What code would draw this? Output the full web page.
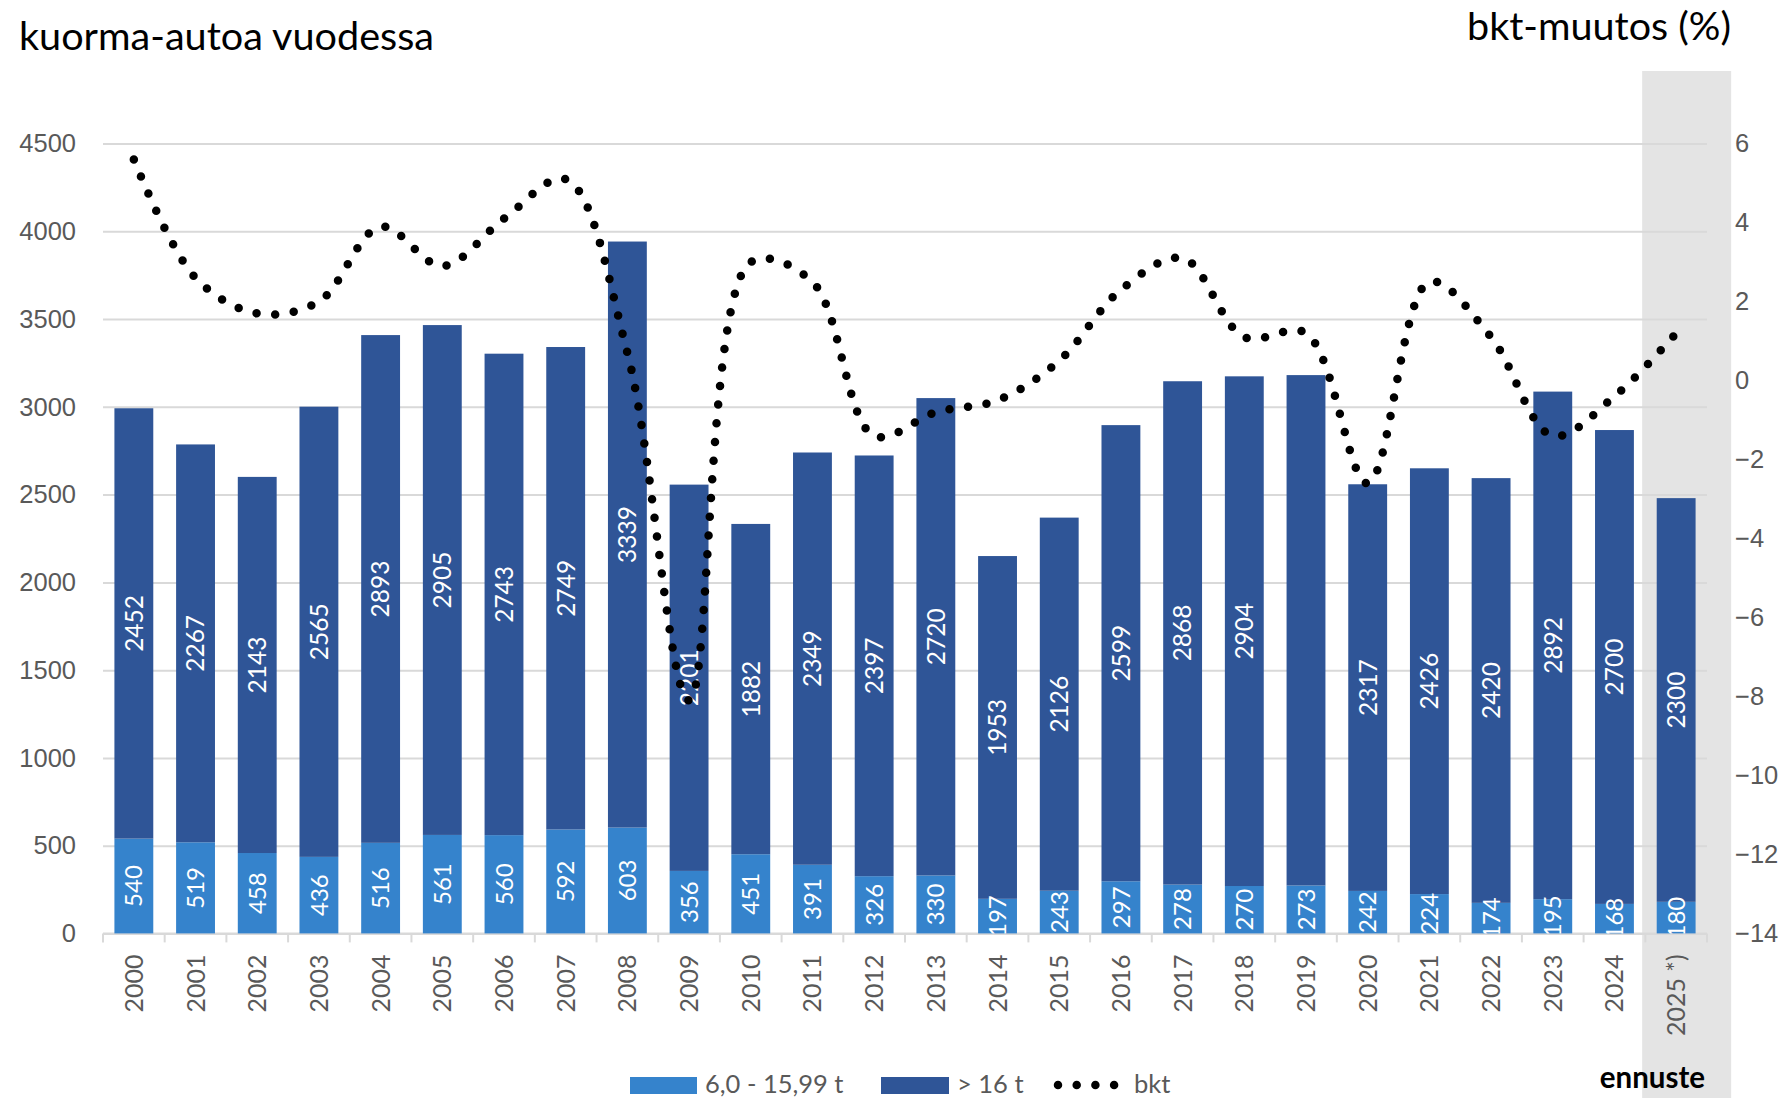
<!DOCTYPE html>
<html>
<head>
<meta charset="utf-8">
<script src="https://cdn.jsdelivr.net/npm/d3@7"></script>
<style>
  body { margin: 0; background: #fff; }
  svg { display: block; font-family: Lato, 'Open Sans', sans-serif; }
</style>
</head>
<body>
<div id="chart"></div>
<script>
const years = ['2000', '2001', '2002', '2003', '2004', '2005', '2006', '2007', '2008', '2009',
  '2010', '2011', '2012', '2013', '2014', '2015', '2016', '2017', '2018', '2019',
  '2020', '2021', '2022', '2023', '2024', '2025 *)']

// 6,0 - 15,99 t
const lightTrucks = [540, 519, 458, 436, 516, 561, 560, 592, 603, 356,
  451, 391, 326, 330, 197, 243, 297, 278, 270, 273,
  242, 224, 174, 195, 168, 180]

// > 16 t
const heavyTrucks = [2452, 2267, 2143, 2565, 2893, 2905, 2743, 2749, 3339, 2201,
  1882, 2349, 2397, 2720, 1953, 2126, 2599, 2868, 2904, 2908,
  2317, 2426, 2420, 2892, 2700, 2300]

// bkt-muutos (%)
const bkt = [5.6, 2.6, 1.7, 2.0, 3.9, 2.9, 4.1, 5.1, 0.7, -8.1,
  3.0, 2.5, -1.4, -0.8, -0.5, 0.5, 2.3, 3.1, 1.1, 1.2,
  -2.6, 2.5, 1.1, -1.4, -0.4, 1.2]

const leftTicks = [0, 500, 1000, 1500, 2000, 2500, 3000, 3500, 4000, 4500]
const rightTicks = [-14, -12, -10, -8, -6, -4, -2, 0, 2, 4, 6]

// the label of this year is not shown in the original
const hiddenLabels = ['2019']
const forecastYear = '2025 *)'

const W = 1787
const H = 1098
const plot = { left: 103, right: 1707, top: 143.6, bottom: 933.4 }

const lightColor = '#3583CC'
const heavyColor = '#2F5597'
const gridColor = '#D9D9D9'
const textGrey = '#595959'

const data = years.map((y, i) => ({
  year: y,
  light: lightTrucks[i],
  heavy: heavyTrucks[i],
  bkt: bkt[i]
}))

const svg = d3
  .select('#chart')
  .append('svg')
  .attr('width', W)
  .attr('height', H)

const x = d3
  .scaleBand()
  .domain(years)
  .range([plot.left, plot.right])
  .paddingInner(0.37)
  .paddingOuter(0.185)

const y = d3
  .scaleLinear()
  .domain([0, 4500])
  .range([plot.bottom, plot.top])

const y2 = d3
  .scaleLinear()
  .domain([-14, 6])
  .range([plot.bottom, plot.top])

const bw = x.bandwidth()
const step = x.step()
const cx = d => x(d.year) + bw / 2

// forecast shading
svg
  .append('rect')
  .attr('x', x(forecastYear) + bw / 2 - 34)
  .attr('y', 71)
  .attr('width', 89)
  .attr('height', H - 71)
  .attr('fill', '#E4E4E4')

// gridlines + left axis
const yAxis = d3
  .axisLeft(y)
  .tickValues(leftTicks)
  .tickSize(-(plot.right - plot.left))
  .tickPadding(27)
  .tickFormat(d3.format('d'))

svg
  .append('g')
  .attr('class', 'y-axis')
  .attr('transform', `translate(${plot.left},0)`)
  .call(yAxis)
  .call(g => g.select('.domain').remove())
  .call(g => g.selectAll('line').attr('stroke', gridColor).attr('stroke-width', 2))
  .call(g => g.selectAll('text').attr('fill', textGrey).attr('font-size', 25.5))

// right axis
const y2Axis = d3
  .axisRight(y2)
  .tickValues(rightTicks)
  .tickSize(0)
  .tickPadding(28)

svg
  .append('g')
  .attr('class', 'y2-axis')
  .attr('transform', `translate(${plot.right},0)`)
  .call(y2Axis)
  .call(g => g.select('.domain').remove())
  .call(g => g.selectAll('text').attr('fill', textGrey).attr('font-size', 25.5))

// x axis ticks at category boundaries
const boundaries = years.map(d => x(d) - (step - bw) / 2).concat([x(years[years.length - 1]) + bw + (step - bw) / 2])
svg
  .append('g')
  .selectAll('line')
  .data(boundaries)
  .enter()
  .append('line')
  .attr('x1', d => d)
  .attr('x2', d => d)
  .attr('y1', plot.bottom)
  .attr('y2', plot.bottom + 9)
  .attr('stroke', gridColor)
  .attr('stroke-width', 2)

svg
  .append('line')
  .attr('x1', plot.left)
  .attr('x2', plot.right)
  .attr('y1', plot.bottom)
  .attr('y2', plot.bottom)
  .attr('stroke', gridColor)
  .attr('stroke-width', 2)

// year labels
svg
  .append('g')
  .selectAll('text')
  .data(data)
  .enter()
  .append('text')
  .attr('transform', d => `translate(${cx(d)},${plot.bottom + 21}) rotate(-90)`)
  .attr('text-anchor', 'end')
  .attr('dy', '0.36em')
  .attr('font-size', 25)
  .attr('fill', textGrey)
  .text(d => d.year)

// bars
svg
  .append('g')
  .selectAll('rect')
  .data(data)
  .enter()
  .append('rect')
  .attr('x', d => x(d.year))
  .attr('width', bw)
  .attr('y', d => y(d.light))
  .attr('height', d => y(0) - y(d.light))
  .attr('fill', lightColor)

svg
  .append('g')
  .selectAll('rect')
  .data(data)
  .enter()
  .append('rect')
  .attr('x', d => x(d.year))
  .attr('width', bw)
  .attr('y', d => y(d.light + d.heavy))
  .attr('height', d => y(d.light) - y(d.light + d.heavy))
  .attr('fill', heavyColor)

// labels are clipped to the plot area like in the original
svg
  .append('clipPath')
  .attr('id', 'plot-clip')
  .append('rect')
  .attr('x', plot.left)
  .attr('y', 60)
  .attr('width', plot.right - plot.left)
  .attr('height', plot.bottom - 60)

const labels = svg.append('g').attr('clip-path', 'url(#plot-clip)')

labels
  .selectAll('.light-label')
  .data(data)
  .enter()
  .append('text')
  .attr('class', 'light-label')
  .attr('transform', d => `translate(${cx(d)},${(y(0) + y(d.light)) / 2}) rotate(-90)`)
  .attr('text-anchor', 'middle')
  .attr('dy', '0.36em')
  .attr('font-size', 24)
  .attr('fill', '#fff')
  .text(d => d.light)

labels
  .selectAll('.heavy-label')
  .data(data.filter(d => !hiddenLabels.includes(d.year)))
  .enter()
  .append('text')
  .attr('class', 'heavy-label')
  .attr('transform', d => `translate(${cx(d)},${(y(d.light) + y(d.light + d.heavy)) / 2}) rotate(-90)`)
  .attr('text-anchor', 'middle')
  .attr('dy', '0.36em')
  .attr('font-size', 24.5)
  .attr('fill', '#fff')
  .text(d => d.heavy)

// bkt line, smoothed, round dots
const line = d3
  .line()
  .x(d => cx(d))
  .y(d => y2(d.bkt))
  .curve(d3.curveCatmullRom.alpha(0.5))

svg
  .append('path')
  .datum(data)
  .attr('d', line)
  .attr('fill', 'none')
  .attr('stroke', '#000')
  .attr('stroke-width', 8.5)
  .attr('stroke-linecap', 'round')
  .attr('stroke-dasharray', '0 18.7')

// titles
svg
  .append('text')
  .attr('x', 19)
  .attr('y', 50)
  .attr('font-size', 39.6)
  .attr('fill', '#000')
  .text('kuorma-autoa vuodessa')

svg
  .append('text')
  .attr('x', 1731)
  .attr('y', 40)
  .attr('text-anchor', 'end')
  .attr('font-size', 39.5)
  .attr('fill', '#000')
  .text('bkt-muutos (%)')

svg
  .append('text')
  .attr('x', 1705)
  .attr('y', 1088)
  .attr('text-anchor', 'end')
  .attr('font-size', 29.5)
  .attr('font-weight', 'bold')
  .attr('fill', '#000')
  .text('ennuste')

// legend
const legend = svg.append('g').attr('font-size', 25.5).attr('fill', textGrey)

legend.append('rect').attr('x', 630).attr('y', 1077).attr('width', 67).attr('height', 17).attr('fill', lightColor)
legend.append('text').attr('x', 705).attr('y', 1093).text('6,0 - 15,99 t')

legend.append('rect').attr('x', 881).attr('y', 1077).attr('width', 68).attr('height', 17).attr('fill', heavyColor)
legend.append('text').attr('x', 957).attr('y', 1093).text('> 16 t')

legend
  .append('line')
  .attr('x1', 1058)
  .attr('x2', 1115)
  .attr('y1', 1085)
  .attr('y2', 1085)
  .attr('stroke', '#000')
  .attr('stroke-width', 8.5)
  .attr('stroke-linecap', 'round')
  .attr('stroke-dasharray', '0 18.7')
legend.append('text').attr('x', 1134).attr('y', 1093).text('bkt')
</script>
</body>
</html>
